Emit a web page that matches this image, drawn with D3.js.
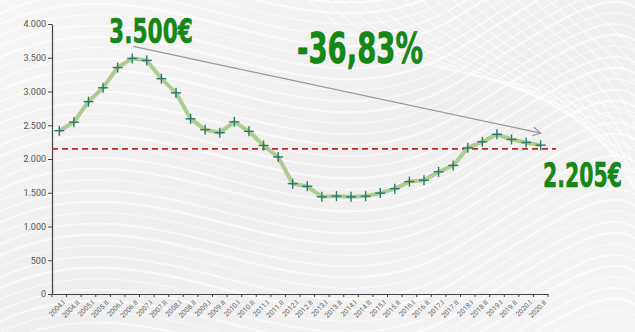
<!DOCTYPE html>
<html>
<head>
<meta charset="utf-8">
<script src="https://cdn.jsdelivr.net/npm/d3@7"></script>
<style>
  html, body { margin: 0; padding: 0; background: #f1f1f1; }
  svg { display: block; }
</style>
</head>
<body>
<svg id="chart" width="635" height="332"></svg>
<script>
const categories = [];
const years = [2004,2005,2006,2007,2008,2009,2010,2011,2012,2013,2014,2015,2016,2017,2018,2019,2020];
years.forEach(y => { categories.push(y + ".I"); categories.push(y + ".II"); });

const values = [2420, 2545, 2850, 3055, 3355, 3490, 3460, 3190, 2980, 2595,
                2435, 2390, 2550, 2410, 2200, 2030, 1635, 1595, 1440, 1450,
                1440, 1450, 1495, 1560, 1665, 1685, 1810, 1905, 2165, 2255,
                2365, 2290, 2245, 2205];

const yTicks = [0, 500, 1000, 1500, 2000, 2500, 3000, 3500, 4000];
const referenceLevel = 2150;
const annotations = { peak: "3.500€", change: "-36,83%", last: "2.205€" };

const W = 635, H = 332;
const margin = { left: 52, right: 87, top: 24, bottom: 38 };
const svg = d3.select("#chart");

// background
const defs = svg.append("defs");
const bg = defs.append("linearGradient").attr("id", "bg").attr("x1", 0).attr("y1", 0).attr("x2", 1).attr("y2", 1);
bg.append("stop").attr("offset", "0%").attr("stop-color", "#f5f5f5");
bg.append("stop").attr("offset", "50%").attr("stop-color", "#eeeeee");
bg.append("stop").attr("offset", "100%").attr("stop-color", "#f4f4f4");
svg.append("rect").attr("width", W).attr("height", H).attr("fill", "url(#bg)");

// decorative swirl texture
const swirl = svg.append("g").attr("fill", "none").attr("stroke", "#ffffff");
for (let i = 0; i < 40; i++) {
  const o = i * 11 - 80;
  swirl.append("path")
    .attr("d", `M-20,${o + 60} C150,${o - 40} 300,${o + 140} 460,${o + 40} S620,${o - 60} 680,${o + 10}`)
    .attr("stroke-width", 1.2 + (i % 3) * 0.6)
    .attr("opacity", 0.6);
}
for (let i = 0; i < 18; i++) {
  const o = i * 16;
  swirl.append("path")
    .attr("d", `M${300 + o},-10 C${380 + o},80 ${460 + o},60 ${660},${120 + o}`)
    .attr("stroke-width", 1.5)
    .attr("opacity", 0.5);
}

const x = d3.scaleBand().domain(categories).range([margin.left, W - margin.right]);
const y = d3.scaleLinear().domain([0, 4000]).range([H - margin.bottom, margin.top]);
const fmt = d => d3.format(",")(d).replace(/,/g, ".");

// y axis
const yAxis = svg.append("g")
  .attr("transform", `translate(${margin.left},0)`)
  .call(d3.axisLeft(y).tickValues(yTicks).tickFormat(fmt).tickSize(4).tickSizeOuter(0));
yAxis.select(".domain").attr("stroke", "#444").attr("stroke-width", 1.2);
yAxis.selectAll(".tick line").attr("stroke", "#444");
yAxis.selectAll(".tick text").attr("fill", "#555").attr("font-family", "Roboto, 'Liberation Sans', sans-serif").attr("font-size", 9).attr("x", -6);

// x axis
const xAxis = svg.append("g")
  .attr("transform", `translate(0,${H - margin.bottom})`)
  .call(d3.axisBottom(x).tickSize(0).tickSizeOuter(0));
xAxis.select(".domain").attr("stroke", "#444").attr("stroke-width", 1.2);
xAxis.selectAll(".tick text")
  .attr("fill", "#666")
  .attr("font-family", "Roboto, 'Liberation Sans', sans-serif")
  .attr("font-size", 7)
  .attr("text-anchor", "end")
  .attr("dy", 0)
  .attr("transform", "translate(4,7) rotate(-45)");
// ticks at band boundaries
const bounds = categories.map(c => x(c)).concat([x(categories[categories.length - 1]) + x.bandwidth()]);
svg.append("g").selectAll("line").data(bounds).join("line")
  .attr("x1", d => d).attr("x2", d => d)
  .attr("y1", H - margin.bottom).attr("y2", H - margin.bottom + 3)
  .attr("stroke", "#444");

// reference dashed line
svg.append("line")
  .attr("x1", margin.left).attr("x2", 556)
  .attr("y1", y(referenceLevel)).attr("y2", y(referenceLevel))
  .attr("stroke", "#b22a2a").attr("stroke-width", 1.8).attr("stroke-dasharray", "6,4");

// data line
const cx = c => x(c) + x.bandwidth() / 2;
const line = d3.line().x((d, i) => cx(categories[i])).y(d => y(d)).curve(d3.curveLinear);
svg.append("path").datum(values)
  .attr("d", line).attr("fill", "none")
  .attr("stroke", "#a9c98a").attr("stroke-width", 4).attr("stroke-linejoin", "round").attr("opacity", 0.95);

// plus markers
const m = svg.append("g").attr("stroke", "#2b7a6b").attr("stroke-width", 1.4);
values.forEach((v, i) => {
  const px = cx(categories[i]), py = y(v);
  m.append("line").attr("x1", px - 5).attr("x2", px + 5).attr("y1", py).attr("y2", py);
  m.append("line").attr("x1", px).attr("x2", px).attr("y1", py - 5).attr("y2", py + 5);
});

// trend arrow from peak to last
const ax1 = cx(categories[5]) + 1, ay1 = y(values[5]) - 12;
const ax2 = cx(categories[33]), ay2 = y(values[33]) - 12;
svg.append("line").attr("x1", ax1).attr("y1", ay1).attr("x2", ax2).attr("y2", ay2)
  .attr("stroke", "#9a9a9a").attr("stroke-width", 1.3);
const ang = Math.atan2(ay2 - ay1, ax2 - ax1);
const hl = 9, ha = 0.5;
svg.append("path")
  .attr("d", `M${ax2 - hl * Math.cos(ang - ha)},${ay2 - hl * Math.sin(ang - ha)} L${ax2},${ay2} L${ax2 - hl * Math.cos(ang + ha)},${ay2 - hl * Math.sin(ang + ha)}`)
  .attr("fill", "none").attr("stroke", "#9a9a9a").attr("stroke-width", 1.3);

// big annotations: scaled to the measured box of the reference
function bigText(txt, x0, x1, yBase, capH) {
  const fs = 30;
  const t = svg.append("text")
    .attr("x", 0).attr("y", 0)
    .attr("font-family", "'Liberation Sans Narrow', 'DejaVu Sans Condensed', 'Liberation Sans', sans-serif")
    .attr("font-weight", "bold")
    .attr("font-size", fs)
    .attr("fill", "#138a13")
    .attr("stroke", "#0f6e0f").attr("stroke-width", 0.4)
    .text(txt);
  const w = t.node().getComputedTextLength();
  const sx = (x1 - x0) / w;
  const sy = capH / (0.73 * fs);
  t.attr("transform", `translate(${x0},${yBase}) scale(${sx},${sy})`);
}
bigText(annotations.peak, 109, 193, 43, 25);
bigText(annotations.change, 297, 423, 63, 31);
bigText(annotations.last, 543, 622, 187, 24);
</script>
</body>
</html>
